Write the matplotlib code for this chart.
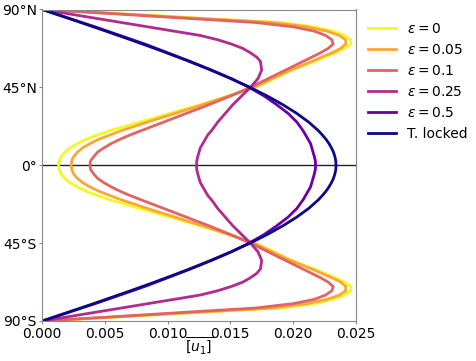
import numpy as np
import matplotlib
matplotlib.use("Agg")
import matplotlib.pyplot as plt

# Northern-hemisphere latitudes (deg); curves are symmetric about the equator
lat_n = [90, 87.5, 85, 82.5, 80, 77.5, 75, 72.5, 70, 67.5, 65, 62.5, 60,
         55, 50, 45, 40, 35, 30, 25, 20, 17.5, 15, 12.5, 10, 7.5, 5, 2.5, 0]

u_eps0 = [0, 0.0065, 0.0126, 0.0190, 0.0217, 0.0232, 0.0241, 0.0246, 0.0246,
          0.0241, 0.0234, 0.0225, 0.0217, 0.0199, 0.0185, 0.0170, 0.0148,
          0.0126, 0.0102, 0.0078, 0.0054, 0.0044, 0.0035, 0.0028, 0.0022,
          0.0018, 0.0015, 0.00135, 0.0013]
u_eps005 = [0, 0.0062, 0.0121, 0.0183, 0.0211, 0.0227, 0.0237, 0.0242, 0.0242,
            0.0238, 0.0231, 0.0223, 0.0215, 0.0198, 0.0183, 0.0169, 0.0149,
            0.0128, 0.0106, 0.0084, 0.0063, 0.0054, 0.0045, 0.0038, 0.0032,
            0.0028, 0.0025, 0.00235, 0.0023]
u_eps01 = [0, 0.0058, 0.0113, 0.0170, 0.0200, 0.0217, 0.0226, 0.0231, 0.0232,
           0.0228, 0.0222, 0.0215, 0.0208, 0.0194, 0.0180, 0.0166, 0.0150,
           0.0133, 0.0115, 0.0097, 0.0079, 0.0070, 0.0062, 0.0055, 0.0049,
           0.0044, 0.0041, 0.00385, 0.0038]
u_eps025 = [0, 0.0021, 0.0042, 0.0063, 0.0084, 0.0105, 0.0126, 0.0140, 0.0151,
            0.0160, 0.0166, 0.0171, 0.0174, 0.0175, 0.0172, 0.0166, 0.0159,
            0.0152, 0.0146, 0.0140, 0.0135, 0.0132, 0.0130, 0.0128, 0.0126,
            0.0125, 0.0124, 0.01232, 0.0123]
u_eps05 = [0, 0.00105, 0.0021, 0.00315, 0.0042, 0.0052, 0.0062, 0.0072, 0.0082,
           0.0091, 0.0100, 0.0109, 0.0118, 0.0135, 0.0151, 0.0165, 0.0177,
           0.0187, 0.0196, 0.0203, 0.0208, 0.0210, 0.0212, 0.0214, 0.0215,
           0.0216, 0.0217, 0.02178, 0.0218]
u_locked = [0, 0.00102, 0.00204, 0.00306, 0.00407, 0.00507, 0.00606, 0.00705,
            0.00801, 0.00897, 0.00990, 0.01082, 0.01172, 0.01344, 0.01506,
            0.01657, 0.01795, 0.01919, 0.02029, 0.02124, 0.02202, 0.02234,
            0.02263, 0.02287, 0.02307, 0.02323, 0.02334, 0.02341, 0.02343]

labels = [r"$\varepsilon = 0$", r"$\varepsilon = 0.05$", r"$\varepsilon = 0.1$",
          r"$\varepsilon = 0.25$", r"$\varepsilon = 0.5$", "T. locked"]
series = [u_eps0, u_eps005, u_eps01, u_eps025, u_eps05, u_locked]

yticks = [90, 45, 0, -45, -90]
yticklabels = ["90°N", "45°N", "0°", "45°S", "90°S"]
xticks = [0.0, 0.005, 0.010, 0.015, 0.020, 0.025]


def full(v):
    v = np.asarray(v, dtype=float)
    return np.concatenate([v, v[-2::-1]])


lat_full = np.concatenate([np.asarray(lat_n, float), -np.asarray(lat_n, float)[-2::-1]])

fig = plt.figure(figsize=(4.76, 3.61), dpi=100)
ax = fig.add_axes([42.3 / 476, 1 - 321 / 361, (355.7 - 42.3) / 476, (321 - 9.5) / 361])

colors = plt.cm.plasma(np.linspace(1, 0, 6))
ax.axhline(0, color="#222222", lw=1.0, zorder=1)
for vals, lab, c in zip(series, labels, colors):
    ax.plot(full(vals), lat_full, color=c, lw=2, label=lab, zorder=2)

ax.set_xlim(0, 0.025)
ax.set_ylim(-90, 90)
ax.set_yticks(yticks)
ax.set_yticklabels(yticklabels)
ax.set_xticks(xticks)
ax.set_xticklabels([f"{t:.3f}" for t in xticks])
ax.set_xlabel(r"$\overline{[u_1]}$", labelpad=-3)
for s in ax.spines.values():
    s.set_color("#888888")
ax.tick_params(colors="#888888", labelcolor="black", labelsize=10,
               length=2.5, pad=1.5)

ax.legend(loc="upper left", bbox_to_anchor=(1.0, 1.0), frameon=False, fontsize=10)

fig.savefig("out.png", dpi=100)
